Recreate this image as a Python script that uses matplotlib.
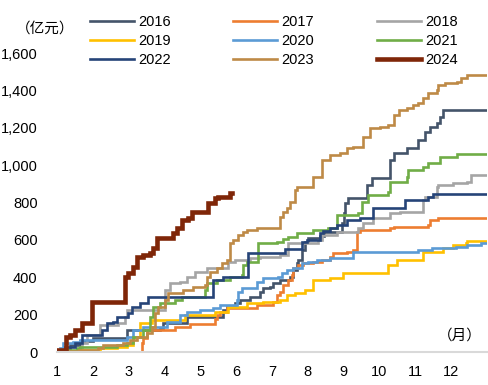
import matplotlib
matplotlib.use('Agg')
import matplotlib.pyplot as plt
from matplotlib.ticker import FuncFormatter

plt.rcParams['font.family'] = ['Liberation Sans', 'Noto Sans CJK SC', 'DejaVu Sans']

# cumulative amount (100 million yuan), month position -> value (step after)
m_2016 = [1.0, 1.17, 1.36, 1.64, 2.01, 2.96, 3.88, 3.96, 4.63, 5.64, 5.75, 5.97, 6.11, 6.39, 6.67,
          6.75, 6.95, 7.03, 7.23, 7.51, 7.59, 7.70, 7.73, 7.84, 7.93, 8.01, 8.35, 8.45, 8.95, 9.0,
          9.04, 9.13, 9.66, 9.80, 10.30, 10.39, 10.78, 11.06, 11.28, 11.42, 11.61, 11.70, 11.78, 12.98]
v_2016 = [0, 10, 40, 60, 75, 118, 129, 155, 188, 225, 241, 262, 279, 295, 322,
          343, 348, 370, 386, 402, 440, 477, 493, 547, 590, 611, 620, 643, 690, 745,
          800, 826, 895, 933, 1029, 1067, 1093, 1136, 1179, 1206, 1227, 1260, 1297, 1297]

m_2017 = [1.0, 3.32, 3.37, 3.40, 3.51, 4.30, 4.72, 5.41, 5.47, 5.55, 5.75, 6.59, 7.03, 7.15, 7.23,
          7.31, 7.45, 7.56, 7.59, 7.73, 7.87, 8.15, 8.40, 8.63, 8.71, 9.10, 9.27, 9.38, 9.46,
          10.30, 10.39, 11.36, 11.42, 11.64, 12.98]
v_2017 = [0, 0, 48, 75, 118, 134, 150, 175, 198, 214, 236, 252, 268, 306, 322,
          359, 386, 413, 450, 466, 477, 482, 493, 509, 530, 536, 547, 643, 654,
          665, 670, 680, 708, 718, 718]

m_2018 = [1.0, 1.08, 1.70, 1.84, 2.20, 2.70, 2.90, 2.96, 4.02, 4.16, 4.44, 4.63, 4.85, 5.19, 5.78,
          5.97, 6.39, 6.67, 7.23, 7.45, 8.29, 8.40, 8.82, 9.41, 9.55, 9.83, 10.30, 10.58, 11.20,
          11.22, 11.28, 11.61, 11.64, 12.06, 12.45, 12.54, 12.98]
v_2018 = [0, 5, 48, 90, 145, 155, 188, 225, 333, 370, 375, 402, 429, 450, 482,
          493, 504, 509, 520, 584, 600, 627, 643, 665, 692, 718, 745, 750, 772,
          815, 830, 885, 895, 906, 911, 949, 949]

m_2019 = [1.0, 1.56, 2.20, 2.68, 2.96, 3.12, 3.32, 3.65, 4.58, 5.41, 5.78, 6.31, 6.75, 7.23, 7.42,
          7.65, 7.93, 8.15, 8.63, 8.99, 10.25, 10.50, 11.22, 11.78, 12.06, 12.40, 12.45, 12.98]
v_2019 = [0, 10, 20, 27, 37, 80, 155, 170, 198, 214, 241, 262, 268, 279, 306,
          316, 333, 386, 397, 423, 466, 493, 536, 557, 573, 584, 595, 595]

m_2020 = [1.0, 1.08, 1.17, 1.45, 1.64, 2.96, 3.12, 3.40, 4.07, 4.44, 4.63, 4.99, 5.36, 5.55, 6.03,
          6.06, 6.17, 6.59, 6.75, 7.17, 7.28, 7.42, 7.59, 7.84, 8.01, 8.26, 8.63, 9.27, 11.08,
          11.47, 12.12, 12.45, 12.82, 12.98]
v_2020 = [0, 20, 48, 54, 64, 80, 118, 134, 161, 198, 214, 225, 236, 252, 279,
          320, 343, 375, 397, 402, 423, 440, 450, 477, 482, 493, 504, 536, 547,
          557, 562, 573, 584, 584]

m_2021 = [1.0, 1.28, 1.56, 1.64, 2.68, 2.96, 3.12, 3.40, 3.60, 3.68, 3.88, 4.30, 4.49, 5.13, 5.19,
          5.47, 5.83, 6.17, 6.20, 6.31, 6.61, 7.15, 7.31, 7.45, 7.70, 8.15, 8.57, 8.82, 9.41,
          9.52, 9.69, 10.25, 10.30, 10.78, 10.80, 11.22, 11.34, 11.70, 12.17, 12.98]
v_2021 = [0, 10, 20, 27, 37, 48, 80, 118, 188, 241, 262, 280, 295, 333, 370,
          386, 402, 413, 466, 482, 584, 590, 605, 616, 638, 654, 665, 734, 745,
          804, 842, 858, 911, 938, 976, 992, 1013, 1045, 1061, 1061]

m_2022 = [1.0, 1.14, 1.22, 1.50, 1.70, 2.26, 2.40, 2.56, 2.68, 2.98, 3.09, 3.32, 3.54, 5.36, 5.64,
          6.34, 7.37, 7.84, 7.98, 8.35, 8.43, 8.63, 8.82, 9.10, 9.46, 9.83, 10.72, 11.36, 11.50,
          12.98]
v_2022 = [0, 10, 25, 48, 90, 118, 155, 160, 188, 209, 241, 262, 295, 386, 402,
          530, 552, 590, 600, 638, 648, 665, 680, 708, 718, 772, 815, 830, 847,
          847]

m_2023 = [1.0, 1.14, 1.60, 2.15, 2.28, 2.84, 3.04, 3.23, 3.51, 3.65, 3.74, 3.82, 4.02, 4.10, 4.52,
          4.80, 5.13, 5.19, 5.27, 5.47, 5.61, 5.75, 5.83, 5.92, 6.06, 6.20, 6.31, 6.59, 7.23,
          7.31, 7.42, 7.51, 7.65, 7.70, 8.15, 8.40, 8.63, 8.91, 9.10, 9.27, 9.55, 9.74, 10.02,
          10.25, 10.39, 10.53, 10.78, 10.92, 11.08, 11.22, 11.36, 11.61, 11.64, 11.84, 12.17,
          12.26, 12.45, 12.96]
v_2023 = [0, 5, 10, 20, 37, 48, 64, 80, 100, 135, 210, 240, 280, 315, 333,
          350, 360, 402, 429, 450, 477, 493, 584, 600, 627, 643, 654, 665, 724,
          750, 772, 804, 868, 885, 938, 1029, 1056, 1067, 1093, 1099, 1152, 1200, 1206,
          1217, 1270, 1297, 1308, 1324, 1335, 1361, 1388, 1404, 1431, 1442, 1447,
          1469, 1485, 1485]

m_2024 = [1.0, 1.03, 1.25, 1.36, 1.50, 1.70, 1.98, 2.90, 2.98, 3.12, 3.23, 3.40, 3.60, 3.68, 3.79,
          4.24, 4.35, 4.49, 4.66, 4.77, 5.22, 5.41, 5.50, 5.83, 5.89]
v_2024 = [0, 10, 80, 90, 118, 155, 268, 400, 423, 455, 510, 520, 530, 557, 611,
          637, 665, 708, 718, 750, 797, 825, 830, 852, 852]

years = ['2016', '2017', '2018', '2019', '2020', '2021', '2022', '2023', '2024']
months = [m_2016, m_2017, m_2018, m_2019, m_2020, m_2021, m_2022, m_2023, m_2024]
values = [v_2016, v_2017, v_2018, v_2019, v_2020, v_2021, v_2022, v_2023, v_2024]
colors = ['#44546A', '#ED7D31', '#A5A5A5', '#FFC000', '#5B9BD5',
          '#70AD47', '#264478', '#BE8A46', '#7F2608']

fig = plt.figure(figsize=(4.89, 3.85), dpi=100)
ax = fig.add_axes([0.1166, 0.0857, 0.8794, 0.7763])

lines = []
for yr, xs, ys, c in zip(years, months, values, colors):
    lw = 3.3 if yr == '2024' else 1.9
    ln, = ax.step(xs, ys, where='post', color=c, lw=lw, label=yr, solid_joinstyle='miter')
    lines.append(ln)

ax.set_xlim(1, 13)
ax.set_ylim(0, 1600)
ax.set_xticks(range(1, 13))
ax.set_yticks(range(0, 1601, 200))
ax.yaxis.set_major_formatter(FuncFormatter(lambda v, p: '{:,.0f}'.format(v)))
ax.tick_params(length=0, labelsize=10.5, colors='#000000')
ax.tick_params(axis='x', pad=9)
ax.tick_params(axis='y', pad=14)
for s in ['top', 'right', 'left']:
    ax.spines[s].set_visible(False)
ax.spines['bottom'].set_color('#D9D9D9')
ax.spines['bottom'].set_linewidth(1.5)

fig.text(0.033, 0.927, '（亿元）', fontsize=10.5, ha='left', va='center',
         family=['Noto Sans CJK SC', 'DejaVu Sans'])
fig.text(0.94, 0.128, '（月）', fontsize=10.5, ha='center', va='center',
         family=['Noto Sans CJK SC', 'DejaVu Sans'])

# legend fills row by row in the original, matplotlib fills by column
order = [0, 3, 6, 1, 4, 7, 2, 5, 8]
fig.legend([lines[i] for i in order], [years[i] for i in order],
           loc='center', bbox_to_anchor=(0.56, 0.893), ncol=3, frameon=False,
           fontsize=10.5, handlelength=3.0, handletextpad=0.3, columnspacing=4.3,
           labelspacing=0.35, borderpad=0)

fig.savefig('out.png', dpi=100)
